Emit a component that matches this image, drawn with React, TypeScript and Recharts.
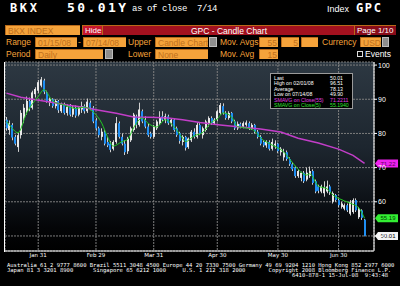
import React from "react"
import { Bar, CartesianGrid, ComposedChart, Line, ReferenceLine, XAxis, YAxis } from "recharts"

const dates = [
  "01/15", "01/16", "01/17", "01/18", "01/22", "01/23", "01/24", "01/25", "01/28", "01/29", "01/30", "01/31",
  "02/01", "02/04", "02/05", "02/06", "02/07", "02/08", "02/11", "02/12", "02/13", "02/14", "02/15", "02/19",
  "02/20", "02/21", "02/22", "02/25", "02/26", "02/27", "02/28", "02/29",
  "03/03", "03/04", "03/05", "03/06", "03/07", "03/10", "03/11", "03/12", "03/13", "03/14", "03/17", "03/18",
  "03/19", "03/20", "03/24", "03/25", "03/26", "03/27", "03/28", "03/31",
  "04/01", "04/02", "04/03", "04/04", "04/07", "04/08", "04/09", "04/10", "04/11", "04/14", "04/15", "04/16",
  "04/17", "04/18", "04/21", "04/22", "04/23", "04/24", "04/25", "04/28", "04/29", "04/30",
  "05/01", "05/02", "05/05", "05/06", "05/07", "05/08", "05/09", "05/12", "05/13", "05/14", "05/15", "05/16",
  "05/19", "05/20", "05/21", "05/22", "05/23", "05/27", "05/28", "05/29", "05/30",
  "06/02", "06/03", "06/04", "06/05", "06/06", "06/09", "06/10", "06/11", "06/12", "06/13", "06/16", "06/17",
  "06/18", "06/19", "06/20", "06/23", "06/24", "06/25", "06/26", "06/27", "06/30",
  "07/01", "07/02", "07/03", "07/07", "07/08", "07/09", "07/10", "07/11", "07/14",
]

const opens = [
  84, 81, 82.5, 79, 76, 79.5, 84.5, 86.5, 89.5, 87.5, 91.5, 92.5,
  94, 95.5, 92, 89, 90, 88, 89.5, 86.5, 88.5, 86, 88, 85.5, 87.5, 85.5, 87, 88, 86.5, 89, 87.5, 83.8,
  81.5, 79, 80.5, 77.5, 77, 75.5, 77.5, 83, 79, 77, 74.8, 78, 81, 85, 82.5, 86.5, 84, 82, 80, 79,
  81.5, 83, 85, 84, 85, 83, 84, 81.5, 80, 77.5, 79, 76, 78, 80.5, 79, 82.5, 79.5, 81, 83, 84.5, 83, 84,
  86, 88, 86, 84.5, 86, 83.5, 81.5, 82.8, 82, 82.5, 83, 81.5, 82.5, 80.5, 79, 77.5, 76.5, 77.5, 75.5, 76.5, 77,
  74.5, 73, 74.5, 72.5, 71, 70, 67.5, 67, 68.5, 66.5, 67.5, 69, 66, 64.5, 63, 62.5, 63, 64.5, 60, 62, 60.5,
  58.5, 58, 59, 56.5, 57, 60.5, 55.5, 57.5, 54.8,
]
const highs = [
  84.8, 83.8, 83, 79.6, 80.2, 86.8, 88.6, 90.8, 90.5, 92.5, 93.5, 95.6,
  96.51, 96, 92.5, 90.5, 90.3, 90, 89.8, 89, 89, 88.5, 88.6, 88, 88.2, 88, 89.3, 88.5, 90.2, 89.6, 88, 84.5,
  82, 81.5, 81, 79, 77.8, 78, 84.8, 83.5, 80, 78, 79, 82, 86, 85.5, 89, 87, 85, 83, 80.5, 82.5,
  84, 86.5, 86.5, 85.8, 85.5, 84.5, 84.2, 82, 80.5, 79.5, 79.3, 78.8, 81, 81.5, 83.3, 83, 82, 84, 85, 85, 84.5, 87,
  88.9, 88.8, 86.5, 86.5, 86.3, 84, 83.5, 83.2, 83.5, 83.8, 83.5, 83, 82.8, 81, 79.5, 78, 78, 78, 78.5, 78, 77.3,
  76, 75.5, 75, 73, 71.5, 70.5, 69.5, 68.8, 69, 70, 70.3, 69.5, 66.5, 65, 65, 66, 66.2, 65, 63, 62.3, 61,
  60, 59.5, 59.5, 60.5, 61, 61, 58.5, 57.8, 55,
]
const lows = [
  80.8, 79.6, 78, 76.5, 74.6, 78.5, 83, 85.5, 86.5, 87, 90.5, 91.8,
  93.5, 91.5, 89, 88, 87.5, 87.3, 86, 86, 85.5, 85.2, 85, 84.8, 84.6, 85, 86, 85.8, 86, 86.8, 83, 80.8,
  78.8, 78, 76.5, 76, 74.5, 75, 77, 78.5, 76.5, 73.7, 74, 77.5, 80.5, 81.5, 82, 83, 81.5, 79, 78.5, 78.5,
  81, 82.5, 83.5, 83, 82.5, 82, 80.5, 79, 77, 76.5, 75, 75.5, 77.5, 78.5, 78.5, 79.5, 78.5, 80.5, 82, 82.5, 82.5, 83.5,
  85.5, 85.5, 84, 84, 83, 81, 81, 81.5, 81.5, 82, 81, 81, 80, 78.5, 76.5, 76, 75.8, 75, 75, 75.5, 74.3,
  73.5, 72, 72, 70.5, 69, 67, 67, 66, 65.5, 66, 67, 65, 62.5, 62.5, 62.5, 61.5, 62.5, 62, 59.5, 60, 58.5,
  58, 57.5, 57, 56, 56.5, 57, 55, 54.7, 49.9,
]
const closes = [
  81.5, 83, 78.8, 77, 79.5, 86, 87.5, 89.5, 87.5, 92, 93, 95,
  95.8, 92.2, 89.5, 90, 88, 89.5, 86.8, 88.5, 86, 87.8, 85.5, 87.5, 85.2, 87.5, 88, 86.5, 89.3, 87.5, 83.5, 81.5,
  79.5, 80.5, 77, 76.5, 75.2, 77.5, 83, 79, 77, 74.5, 78.5, 81.5, 85.5, 82.5, 87, 83.5, 82, 79.5, 79, 82,
  83.5, 84.8, 84, 85, 83, 84, 81, 79.5, 77.8, 79, 75.8, 78.5, 80.5, 79, 82.5, 80, 81.5, 83.5, 84.5, 83, 84, 86.5,
  88.3, 86, 84.5, 86, 83.5, 81.5, 82.8, 82, 83, 83.2, 81.5, 82.5, 80.5, 79, 77, 76.5, 77.5, 75.5, 77.5, 77, 74.8,
  75.5, 74.5, 72.5, 71, 69.5, 67.5, 69, 68.5, 66, 68.5, 69, 65.5, 63, 63.2, 64.5, 64, 64.5, 62.8, 62.5, 60.5, 59,
  59.5, 59, 57.5, 60, 60.5, 57.5, 58, 55.3, 50.01,
]

// moving averages at a few dates
const sma55Points: [string, number][] = [
  ["01/15", 91.8], ["01/23", 90.6], ["01/29", 90], ["02/06", 89.2], ["02/14", 88.3], ["02/22", 87.7],
  ["03/03", 86.8], ["03/11", 85.9], ["03/19", 84.8], ["03/28", 84.7], ["04/07", 84.5], ["04/14", 84],
  ["04/22", 83.2], ["05/01", 82.5], ["05/12", 81.9], ["05/21", 81.3], ["06/02", 80.4], ["06/10", 78.6],
  ["06/19", 77.2], ["06/30", 75.4], ["07/08", 73.6], ["07/14", 71.22],
]
const sma5Points: [string, number][] = [
  ["01/15", 83.5], ["01/16", 82.5], ["01/22", 80.2], ["01/25", 86], ["01/31", 90.8], ["02/04", 92.8],
  ["02/07", 89.5], ["02/13", 88.3], ["02/20", 87.3], ["02/25", 87.7], ["02/28", 86.3], ["03/04", 83],
  ["03/06", 79], ["03/10", 76.3], ["03/13", 77.6], ["03/17", 78.3], ["03/19", 81.6], ["03/25", 84.5],
  ["03/27", 83], ["04/01", 81.9], ["04/04", 84], ["04/09", 82], ["04/14", 78.6], ["04/15", 77.6],
  ["04/18", 79.3], ["04/23", 80.3], ["04/28", 83.3], ["04/30", 84.2], ["05/02", 86], ["05/07", 84.8],
  ["05/09", 82], ["05/13", 81.7], ["05/16", 81.2], ["05/22", 78], ["05/28", 76.6], ["06/03", 74.6],
  ["06/06", 71.5], ["06/10", 69.5], ["06/13", 67.8], ["06/16", 68.2], ["06/19", 64.6], ["06/24", 63.8],
  ["06/26", 62], ["06/30", 61], ["07/07", 59.6], ["07/10", 58.2], ["07/14", 55.19],
]

const monthEnds = ["01/31", "02/29", "03/31", "04/30", "05/30", "06/30"]
const monthLabels = ["Jan 31", "Feb 29", "Mar 31", "Apr 30", "May 30", "Jun 30"]
const priceTicks = [50, 60, 70, 80, 90, 100]

const statsLabels = ["Last", "High on 02/01/08", "Average", "Low on 07/14/08", "SMAVG on Close(55)", "SMAVG on Close(5)"]
const statsValues = ["50.01", "96.51", "78.13", "49.90", "71.2211", "55.1940"]

const ORANGE = "#f5a33b"
const BOX_TEXT = "#c0701c"
const MAGENTA = "#c23ec8"
const GREEN = "#22c822"

const sma55Map = new Map(sma55Points)
const sma5Map = new Map(sma5Points)

const rows = dates.map((date, i) => ({
  date,
  open: opens[i],
  high: highs[i],
  low: lows[i],
  close: closes[i],
  sma55: sma55Map.get(date) ?? null,
  sma5: sma5Map.get(date) ?? null,
}))

function Candle(props: any) {
  const { x, y, width, height, payload } = props
  const { open, close, high, low } = payload
  const span = high - low || 1
  const py = (v: number) => y + ((high - v) / span) * height
  const cx = x + width / 2
  const top = py(Math.max(open, close))
  const bot = py(Math.min(open, close))
  const up = close >= open
  return (
    <g>
      <rect x={Math.round(cx - 0.5)} y={y} width={1} height={height} fill="#cfcfcf" />
      <rect
        x={Math.round(cx - 1)}
        y={top}
        width={2}
        height={Math.max(1, bot - top)}
        fill={up ? "#e8e8e8" : "#1f8ef2"}
      />
    </g>
  )
}

function Badge(props: any) {
  const { viewBox, text, fill, color } = props
  const r = viewBox.x + viewBox.width
  const cy = viewBox.y
  return (
    <g>
      <path
        d={`M${r + 1},${cy} L${r + 4},${cy - 4} L${r + 24},${cy - 4} L${r + 24},${cy + 4} L${r + 4},${cy + 4} Z`}
        fill={fill}
      />
      <text x={r + 14} y={cy + 2.2} textAnchor="middle" fontSize={6} fill={color} fontFamily="Liberation Sans">
        {text}
      </text>
    </g>
  )
}

function Txt({ x, y, children, color = ORANGE, size = 8.5, bold = false, family = "Liberation Sans" }: any) {
  return (
    <div
      style={{
        position: "absolute",
        left: x,
        top: y,
        color,
        fontSize: size,
        fontWeight: bold ? "bold" : "normal",
        fontFamily: family,
        lineHeight: "10px",
        whiteSpace: "pre",
      }}
    >
      {children}
    </div>
  )
}

function Box({ x, y, w, text = "", bg = ORANGE, color = BOX_TEXT, align = "left", size = 8.5 }: any) {
  return (
    <div
      style={{
        position: "absolute",
        left: x,
        top: y,
        width: w,
        height: 10,
        background: bg,
        color,
        fontSize: size,
        fontFamily: "Liberation Sans",
        lineHeight: "10px",
        padding: "0 1px 0 2px",
        boxSizing: "border-box",
        textAlign: align,
        whiteSpace: "pre",
        overflow: "hidden",
        borderTop: "1px solid #b86a1a",
        borderLeft: "1px solid #b86a1a",
      }}
    >
      {text}
    </div>
  )
}

function Btn({ x, y, w = 8 }: any) {
  return (
    <div
      style={{
        position: "absolute",
        left: x,
        top: y,
        width: w,
        height: 10,
        background: "#8e8e8e",
        border: "1px solid #bdbdbd",
        boxSizing: "border-box",
      }}
    />
  )
}

function Header() {
  return (
    <>
      <Txt x={10} y={3} color="#fff" size={12} bold family="DejaVu Sans Mono">
        <span style={{ letterSpacing: 2.6 }}>BKX</span>
      </Txt>
      <Txt x={67} y={3} color="#fff" size={13} bold family="DejaVu Sans Mono">
        <span style={{ letterSpacing: 2.4 }}>50.01Y</span>
      </Txt>
      <Txt x={132} y={4} color="#fff" size={9} family="Liberation Mono">
        <span style={{ letterSpacing: -0.4 }}>as of close  7/14</span>
      </Txt>
      <Txt x={327} y={4} color="#fff" size={9} family="Liberation Sans">Index</Txt>
      <Txt x={356} y={3} color="#fff" size={12} bold family="DejaVu Sans Mono">
        <span style={{ letterSpacing: 1.6 }}>GPC</span>
      </Txt>

      <Box x={5} y={25} w={75} text="BKX INDEX" />
      <Box x={82} y={25} w={20} text="Hide" bg="#c8162e" color="#fff" size={8} />
      <Box x={102} y={25} w={252} text="GPC - Candle Chart" bg="#a3111f" color="#fff" align="center" />
      <Box x={354} y={25} w={42} text="Page 1/10" bg="#880b19" color="#fff" size={8} />

      <Txt x={6} y={37}>Range</Txt>
      <Box x={35} y={37} w={42} text="01/15/08" />
      <Txt x={78} y={37}>-</Txt>
      <Box x={83} y={37} w={43} text="07/14/08" />
      <Txt x={128} y={37}>Upper</Txt>
      <Box x={155} y={37} w={53} text="Candle Chart" />
      <Btn x={209} y={37} />
      <Txt x={220} y={37}>Mov. Avgs</Txt>
      <Box x={259} y={37} w={19} text="55" align="right" />
      <Box x={281} y={37} w={18} text="5" align="right" />
      <Box x={301} y={37} w={17} />
      <Txt x={322} y={37}>Currency</Txt>
      <Box x={360} y={37} w={21} text="USD" />
      <Btn x={382} y={37} w={7} />

      <Txt x={6} y={49}>Period</Txt>
      <Box x={35} y={49} w={68} text="Daily" />
      <Btn x={105} y={49} />
      <Txt x={128} y={49}>Lower</Txt>
      <Box x={155} y={49} w={53} text="None" />
      <Txt x={220} y={49}>Mov. Avg</Txt>
      <Box x={259} y={49} w={19} text="15" align="right" />
      <div
        style={{
          position: "absolute",
          left: 357,
          top: 51,
          width: 6,
          height: 6,
          border: "1px solid #ddd",
          boxSizing: "border-box",
        }}
      />
      <Txt x={365} y={49} color="#fff">Events</Txt>
    </>
  )
}

function StatsBox() {
  return (
    <div
      style={{
        position: "absolute",
        left: 270,
        top: 73,
        width: 83,
        height: 36,
        background: "#000",
        border: "1px solid #9a9a9a",
        boxSizing: "border-box",
        fontFamily: "Liberation Sans",
        fontSize: 5.2,
      }}
    >
      {statsLabels.map((label, k) => {
        const color = k === 4 ? "#e040e0" : k === 5 ? "#30e030" : "#fff"
        return (
          <React.Fragment key={label}>
            <div style={{ position: "absolute", left: 3, top: 1.5 + k * 5.5, color, lineHeight: "5.5px", whiteSpace: "pre" }}>
              {label}
            </div>
            <div style={{ position: "absolute", left: 59, top: 1.5 + k * 5.5, color, lineHeight: "5.5px" }}>
              {statsValues[k]}
            </div>
          </React.Fragment>
        )
      })}
    </div>
  )
}

function Footer() {
  const style: React.CSSProperties = {
    position: "absolute",
    left: 7,
    color: "#fff",
    fontFamily: "DejaVu Sans Mono",
    fontSize: 5.5,
    lineHeight: "5px",
    whiteSpace: "pre",
  }
  return (
    <>
      <div style={{ ...style, top: 263 }}>
        Australia 61 2 9777 8600 Brazil 5511 3048 4500 Europe 44 20 7330 7500 Germany 49 69 9204 1210 Hong Kong 852 2977 6000
      </div>
      <div style={{ ...style, top: 268 }}>
        {"Japan 81 3 3201 8900      Singapore 65 6212 1000     U.S. 1 212 318 2000       Copyright 2008 Bloomberg Finance L.P."}
      </div>
      <div style={{ ...style, top: 273, left: 292 }}>{"6410-878-1 15-Jul-08  9:43:48"}</div>
    </>
  )
}

export default function App() {
  return (
    <div style={{ position: "fixed", left: 0, top: 0, width: 400, height: 286, background: "#000", overflow: "hidden" }}>
      <div style={{ position: "absolute", left: 0, top: 61 }}>
        <ComposedChart
          width={400}
          height={201}
          data={rows}
          margin={{ top: 1, right: 0, bottom: 0, left: 5 }}
          barCategoryGap={0}
          barGap={0}
        >
          <defs>
            <linearGradient id="bgGrad" x1="0" y1="0" x2="0" y2="1">
              <stop offset="0%" stopColor="#2d3842" />
              <stop offset="45%" stopColor="#1d262f" />
              <stop offset="62%" stopColor="#141a21" />
              <stop offset="76%" stopColor="#0b0f14" />
              <stop offset="88%" stopColor="#040507" />
              <stop offset="100%" stopColor="#000" />
            </linearGradient>
          </defs>
          <CartesianGrid stroke="#7e7e7e" strokeDasharray="2 1" fill="url(#bgGrad)" fillOpacity={1} />
          <XAxis
            dataKey="date"
            ticks={monthEnds}
            interval={0}
            tickFormatter={(d) => monthLabels[monthEnds.indexOf(d)] ?? ""}
            tick={{ fill: "#fff", fontSize: 5.5, fontFamily: "DejaVu Sans" }}
            tickSize={0}
            tickMargin={2}
            height={11}
            axisLine={{ stroke: "#fff" }}
            padding={{ left: 0, right: 8 }}
          />
          <YAxis
            orientation="right"
            type="number"
            domain={[45.6, 100.9]}
            allowDataOverflow
            ticks={priceTicks}
            width={26}
            tick={{ fill: "#fff", fontSize: 7, fontFamily: "Liberation Sans" }}
            tickSize={3}
            tickMargin={1}
            axisLine={{ stroke: "#fff" }}
            tickLine={{ stroke: "#fff" }}
          />
          <Bar dataKey={(d: any) => [d.low, d.high]} shape={<Candle />} isAnimationActive={false} />
          <Line
            type="linear"
            dataKey="sma55"
            stroke={MAGENTA}
            strokeWidth={1.5}
            dot={false}
            connectNulls
            isAnimationActive={false}
          />
          <Line
            type="monotone"
            dataKey="sma5"
            stroke={GREEN}
            strokeWidth={1}
            dot={false}
            connectNulls
            isAnimationActive={false}
          />
          <ReferenceLine y={71.22} stroke="none" label={<Badge text="71.22" fill="#ee22ee" color="#5a005a" />} />
          <ReferenceLine y={55.19} stroke="none" label={<Badge text="55.19" fill="#33ee33" color="#004400" />} />
          <ReferenceLine y={50.01} stroke="none" label={<Badge text="50.01" fill="#f4f4f4" color="#000" />} />
        </ComposedChart>
      </div>
      <div style={{ position: "absolute", left: 4, top: 62, width: 1, height: 190, background: "#fff" }} />
      <Header />
      <StatsBox />
      <Footer />
    </div>
  )
}
